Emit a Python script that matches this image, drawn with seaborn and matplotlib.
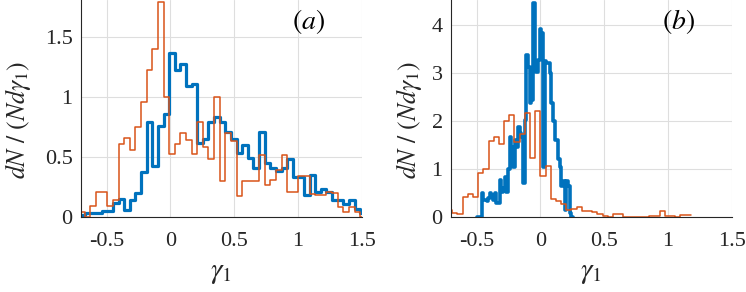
import matplotlib
matplotlib.use('Agg')
import matplotlib.pyplot as plt
import numpy as np
import pandas as pd
import seaborn as sns

sns.set_theme(style='white')
plt.rcParams['font.family'] = ['Liberation Serif', 'DejaVu Serif']
plt.rcParams['mathtext.fontset'] = 'stix'

# ---- panel (a): both series share the same bins
a_start = -0.714
a_width = 0.044
a_blue = [0.02, 0.03, 0.03, 0.03, 0.05, 0.05, 0.12, 0.15, 0.06, 0.14,
          0.20, 0.375, 0.79, 0.425, 0.76, 0.86, 1.37, 1.23, 1.28, 1.09,
          1.11, 0.62, 0.65, 0.79, 0.835, 0.79, 0.71, 0.65, 0.53, 0.60,
          0.49, 0.41, 0.71, 0.45, 0.41, 0.38, 0.41, 0.48, 0.33, 0.33,
          0.18, 0.35, 0.21, 0.23, 0.21, 0.14, 0.14, 0.11, 0.14, 0.065,
          0.035]
a_orange = [0.04, 0.0, 0.09, 0.21, 0.21, 0.09, 0.14, 0.61, 0.66, 0.56,
            0.75, 0.96, 1.23, 1.40, 1.79, 1.00, 0.525, 0.61, 0.70, 0.64,
            0.525, 0.79, 0.58, 0.48, 1.00, 0.30, 0.70, 0.63, 0.175, 0.30,
            0.30, 0.30, 0.52, 0.27, 0.31, 0.39, 0.52, 0.21, 0.21, 0.34,
            0.34, 0.19, 0.18, 0.18, 0.21, 0.20, 0.085, 0.045, 0.085, 0.045,
            0.0]

# ---- panel (b): blue has finer bins than orange
b_blue_start = -0.50
b_blue_width = 0.013
b_blue = [0.0, 0.0, 0.0, 0.5, 0.35, 0.35, 0.33, 0.40, 0.49, 0.45,
          0.35, 0.49, 0.30, 0.30, 0.77, 0.52, 0.60, 0.83, 0.52, 1.01,
          1.67, 1.46, 1.05, 1.60, 1.46, 1.88, 1.74, 1.67, 0.71, 2.02,
          3.375, 3.13, 2.37, 2.44, 4.45, 3.13, 3.03, 3.27, 3.91, 3.83,
          1.05, 3.24, 3.20, 3.20, 3.00, 2.37, 2.00, 1.60, 1.60, 1.20,
          1.05, 0.64, 0.75, 0.15, 0.75, 0.64, 0.08, 0.0]
b_orange_start = -0.731
b_orange_width = 0.0406
b_orange = [0.146, 0.08, 0.07, 0.41, 0.48, 0.41, 0.92, 0.99, 1.58, 1.67,
            1.52, 1.99, 2.13, 1.56, 1.73, 2.17, 1.22, 2.20, 0.85, 1.06,
            0.37, 0.33, 0.28, 0.15, 0.16, 0.21, 0.12, 0.12, 0.10, 0.06,
            0.02, 0.0, 0.07, 0.07, 0.0, 0.0, 0.0, 0.0, 0.0, 0.02,
            0.02, 0.13, 0.03, 0.03, 0.0, 0.05, 0.05]

xticks = [-0.5, 0, 0.5, 1, 1.5]
xticklabels = ['-0.5', '0', '0.5', '1', '1.5']
a_yticks = [0, 0.5, 1, 1.5]
a_yticklabels = ['0', '0.5', '1', '1.5']
b_yticks = [0, 1, 2, 3, 4]
b_yticklabels = ['0', '1', '2', '3', '4']

BLUE = '#0072BD'
ORANGE = '#D95319'
INK = '#262626'


def stairs(ax, start, width, heights, color, lw):
    heights = np.asarray(heights, dtype=float)
    edges = start + width * np.arange(len(heights) + 1)
    df = pd.DataFrame({'g': edges[:-1] + width / 2, 'w': heights})
    sns.histplot(data=df, x='g', weights='w', bins=list(edges),
                 element='step', fill=False, color=color, linewidth=lw, ax=ax)


fig = plt.figure(figsize=(7.46, 2.92), dpi=100)
ax_a = fig.add_axes([81 / 746, 75 / 292, 281 / 746, 217 / 292])
ax_b = fig.add_axes([451 / 746, 75 / 292, 281 / 746, 217 / 292])

stairs(ax_a, a_start, a_width, a_blue, BLUE, 2.3)
stairs(ax_a, a_start, a_width, a_orange, ORANGE, 1.1)
stairs(ax_b, b_blue_start, b_blue_width, b_blue, BLUE, 2.6)
stairs(ax_b, b_orange_start, b_orange_width, b_orange, ORANGE, 1.1)

panels = [(ax_a, (0, 1.81), a_yticks, a_yticklabels, '$(a)$', -0.172),
          (ax_b, (0, 4.52), b_yticks, b_yticklabels, '$(b)$', -0.095)]
for ax, ylim, yt, ytl, tag, ylab_x in panels:
    ax.set_xlim(-0.7, 1.5)
    ax.set_ylim(*ylim)
    ax.set_xticks(xticks)
    ax.set_xticklabels(xticklabels)
    ax.set_yticks(yt)
    ax.set_yticklabels(ytl)
    ax.grid(True, color='#dedede', linewidth=0.8)
    ax.set_axisbelow(True)
    for side in ['top', 'right']:
        ax.spines[side].set_visible(False)
    for side in ['left', 'bottom']:
        ax.spines[side].set_color(INK)
        ax.spines[side].set_linewidth(0.8)
    ax.tick_params(axis='both', direction='in', length=3, width=0.6,
                   colors=INK, labelsize=16)
    ax.tick_params(axis='x', pad=11)
    ax.tick_params(axis='y', pad=6)
    ax.set_xlabel(r'$\gamma_1$', fontsize=21, color=INK, labelpad=6)
    ax.set_ylabel(r'$dN\ /\ (Nd\gamma_1)$', fontsize=18.5, color=INK)
    ax.yaxis.set_label_coords(ylab_x, 0.45)
    ax.text(0.81, 0.90, tag, transform=ax.transAxes, fontsize=20,
            ha='center', va='center', color='black')

fig.savefig('out.png', dpi=100)
